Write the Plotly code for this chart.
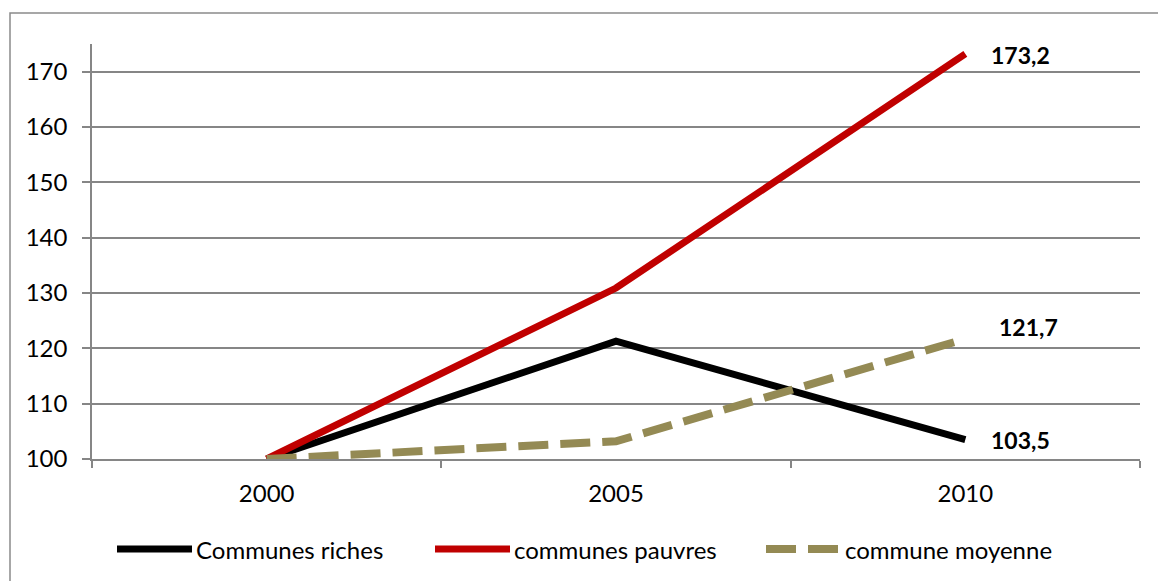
import plotly.graph_objects as go

# ---- data -------------------------------------------------------------
years = ["2000", "2005", "2010"]
riches = [100, 121.3, 103.5]
pauvres = [100, 130.9, 173.2]
moyenne = [100, 103.2, 121.7]
series_names = ["Communes riches", "communes pauvres", "commune moyenne"]
y_ticks = [100, 110, 120, 130, 140, 150, 160, 170]

# ---- layout geometry (pixels) ------------------------------------------
W, H = 1158, 581
ML, MR, MT, MB = 92, 18, 44, 122
FONT = "Lato"
GRID = "#868686"


def px(x):
    return (x - ML) / (W - ML - MR)


def py(y):
    return (H - MB - y) / (H - MT - MB)


colors = ["#000000", "#C00000", "#948A54"]
widths = [7, 7, 8]
dashes = ["solid", "solid", "30px,12px"]
series = [riches, pauvres, moyenne]

fig = go.Figure()
for name, vals, c, w, d in zip(series_names, series, colors, widths, dashes):
    fig.add_trace(go.Scatter(
        x=years, y=vals, mode="lines", name=name,
        line=dict(color=c, width=w, dash=d),
        showlegend=False, hoverinfo="skip",
    ))

# value labels at the last point of each series
label_shift = [(24, 0), (24, -1), (32, 12)]  # (x, y) offsets in px
last = len(years) - 1
for vals, (dx, dy) in zip(series, label_shift):
    v = vals[-1]
    fig.add_annotation(
        x=last, y=v, xref="x", yref="y",
        text="<b>" + f"{v:.1f}".replace(".", ",") + "</b>",
        showarrow=False, xanchor="left", yanchor="middle",
        xshift=dx, yshift=dy,
        font=dict(family=FONT, size=23, color="#000000"),
    )

# legend drawn along the bottom
legend_x = [117, 435, 766]
sample_len = 75
legend_y = 549
shapes = []
for i, (name, c, w, d) in enumerate(zip(series_names, colors, widths, dashes)):
    x0 = legend_x[i]
    shapes.append(dict(
        type="line", xref="paper", yref="paper",
        x0=px(x0), x1=px(x0 + sample_len), y0=py(legend_y), y1=py(legend_y),
        line=dict(color=c, width=w, dash=d if d != "solid" else None),
    ))
    fig.add_annotation(
        x=px(x0 + sample_len + 2), y=py(legend_y), xref="paper", yref="paper",
        text=name, showarrow=False, xanchor="left", yanchor="middle",
        font=dict(family=FONT, size=24, color="#000000"),
    )

# outer chart frame
shapes.append(dict(
    type="rect", xref="paper", yref="paper", layer="below",
    x0=px(10), x1=px(1170), y0=py(13), y1=py(600),
    line=dict(color="#8a8a8a", width=1.5), fillcolor="rgba(0,0,0,0)",
))

fig.update_layout(
    width=W, height=H,
    margin=dict(l=ML, r=MR, t=MT, b=MB),
    paper_bgcolor="white", plot_bgcolor="white",
    font=dict(family=FONT, size=24, color="#000000"),
    shapes=shapes,
    showlegend=False,
)
fig.update_xaxes(
    type="category", range=[-0.5, 2.5],
    tickson="boundaries", ticks="outside", ticklen=7, tickwidth=1.5, tickcolor=GRID,
    showline=True, linecolor=GRID, linewidth=1.5, showgrid=False,
    tickfont=dict(family=FONT, size=24, color="#000000"),
    ticklabelstandoff=12,
)
fig.update_yaxes(
    range=[100, 175], tickvals=y_ticks,
    ticks="outside", ticklen=8, tickwidth=1.5, tickcolor=GRID,
    showline=True, linecolor=GRID, linewidth=1.5,
    showgrid=True, gridcolor=GRID, gridwidth=1.5, zeroline=False,
    tickfont=dict(family=FONT, size=24, color="#000000"),
    ticklabelstandoff=10,
)

fig.write_html("out.html")
